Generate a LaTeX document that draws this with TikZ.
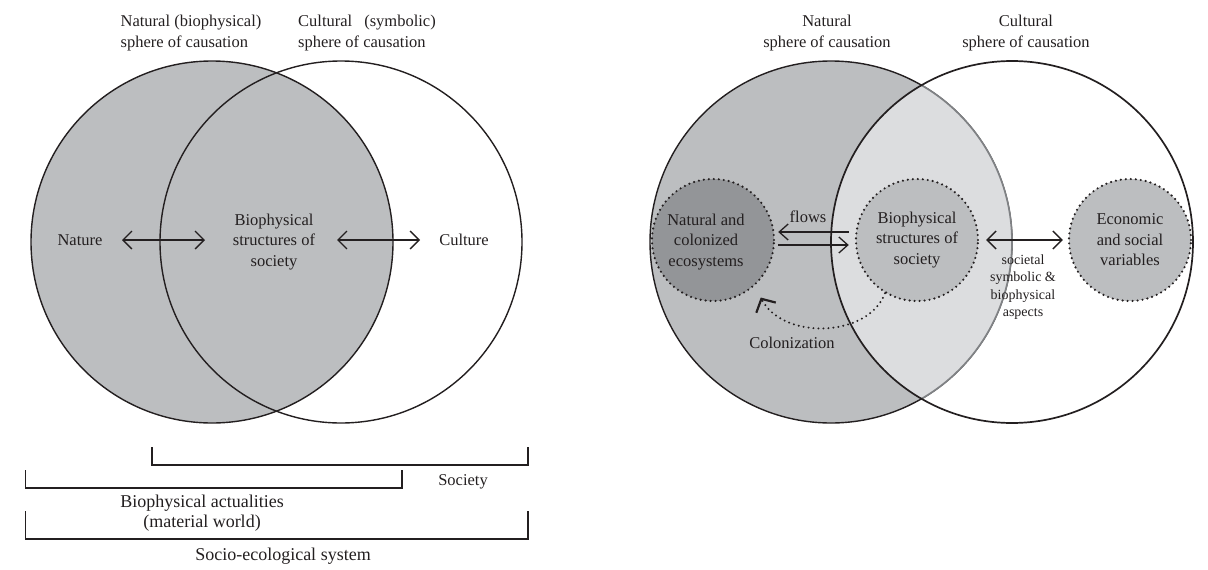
\documentclass[tikz,border=0pt]{standalone}
\usepackage{fontspec}
\setmainfont{Liberation Serif}
\usetikzlibrary{arrows.meta}
\definecolor{ink}{HTML}{231F20}
\definecolor{fillmid}{HTML}{BCBEC0}
\definecolor{filllight}{HTML}{DCDDDF}
\definecolor{filldark}{HTML}{939598}
\definecolor{rimgray}{HTML}{808285}
\begin{document}
\begin{tikzpicture}[x=1pt,y=-1pt,
  txt/.style={text=ink, font=\fontsize{16.5}{20.5}\selectfont, align=center, inner sep=0pt},
  bigrim/.style={draw=ink, line width=1.4pt},
  bracketline/.style={draw=ink, line width=1.5pt},
  dotcirc/.style={circle, minimum size=122pt, inner sep=0pt, draw=ink, line width=2.4pt, dash pattern=on 0pt off 5pt, line cap=round},
  dblarrow/.style={draw=ink, line width=1.3pt, {Straight Barb[length=9pt,width=18pt]}-{Straight Barb[length=9pt,width=18pt]}},
  flowarrow/.style={draw=ink, line width=1.3pt, -{Straight Barb[length=9pt,width=16pt]}},
  colarrow/.style={draw=ink, line width=2.2pt, dash pattern=on 0pt off 5pt, line cap=round, -{Straight Barb[length=10pt,width=22pt,line width=2.2pt]}}
]
\useasboundingbox (0,0) rectangle (1208,570);

% ---------- left diagram ----------
\fill[fillmid] (212,242) circle[radius=181pt];
\draw[bigrim] (212,242) circle[radius=181pt];
\draw[bigrim] (341,242) circle[radius=181pt];

\node[txt, align=left] (t1) at (191,33) {Natural (biophysical)\\sphere of causation};
\node[txt, align=left] (t2) at (367,33) {Cultural\hspace{12pt}(symbolic)\\sphere of causation};

\node[txt] (nature) at (80,240) {Nature};
\node[txt] (bio1) at (274,242) {Biophysical\\structures of\\society};
\node[txt] (culture) at (464,240) {Culture};
\draw[dblarrow, shorten <=42pt, shorten >=69pt] (nature.center) -- (nature.center -| bio1.center);
\draw[dblarrow, shorten <=63pt, shorten >=44pt] (bio1.center |- culture.center) -- (culture.center);

\draw[bracketline] (152,447) |- (528,465) -- (528,447);
\draw[bracketline] (25.6,470) |- (402,488) -- (402,470);
\draw[bracketline] (25.6,511) |- (528,539) -- (528,511);
\node[txt] (soc) at (463,482) {Society};
\node[txt, font=\fontsize{18}{20}\selectfont] (bpa) at (202,513) {Biophysical actualities\\(material world)};
\node[txt, font=\fontsize{18}{20}\selectfont] (ses) at (283,556) {Socio-ecological system};

% ---------- right diagram ----------
\fill[fillmid] (831,242) circle[radius=181pt];
\draw[bigrim] (831,242) circle[radius=181pt];
\begin{scope}
  \clip (1012,242) circle[radius=181pt];
  \fill[filllight] (831,242) circle[radius=181pt];
  \draw[rimgray, line width=1.7pt] (831,242) circle[radius=181pt];
\end{scope}
\draw[draw=ink, line width=1.7pt] (1012,242) circle[radius=181pt];

\node[txt] (t3) at (827,33) {Natural\\sphere of causation};
\node[txt] (t4) at (1026,33) {Cultural\\sphere of causation};

\node[dotcirc, fill=filldark] (nat) at (713,240) {};
\node[txt] (nattxt) at (706,242) {Natural and\\colonized\\ecosystems};
\node[dotcirc, fill=fillmid, txt, draw=ink] (bio2) at (917,240) {Biophysical\\structures of\\society};
\node[dotcirc, fill=fillmid, txt, draw=ink] (econ) at (1130,240) {Economic\\and social\\variables};

\draw[flowarrow, shorten <=6pt, shorten >=3pt] ([yshift=8pt]bio2.west) -- ([yshift=8pt]nat.east);
\draw[flowarrow, shorten <=3pt, shorten >=6pt] ([yshift=-5pt]nat.east) -- ([yshift=-5pt]bio2.west);
\node[txt] (flowslbl) at (808,217) {flows};

\draw[dblarrow, shorten <=7pt, shorten >=5pt] (bio2.east) -- (econ.west);
\node[txt, font=\fontsize{14}{17.5}\selectfont] (aspects) at (1023,287) {societal\\symbolic \&\\biophysical\\aspects};

\coordinate (colend) at (760.7,297.5);
\draw[colarrow] (bio2.239) .. controls (868,338) and (783,340) .. (colend);
\node[txt] (colon) at (792,343) {Colonization};
\end{tikzpicture}
\end{document}
